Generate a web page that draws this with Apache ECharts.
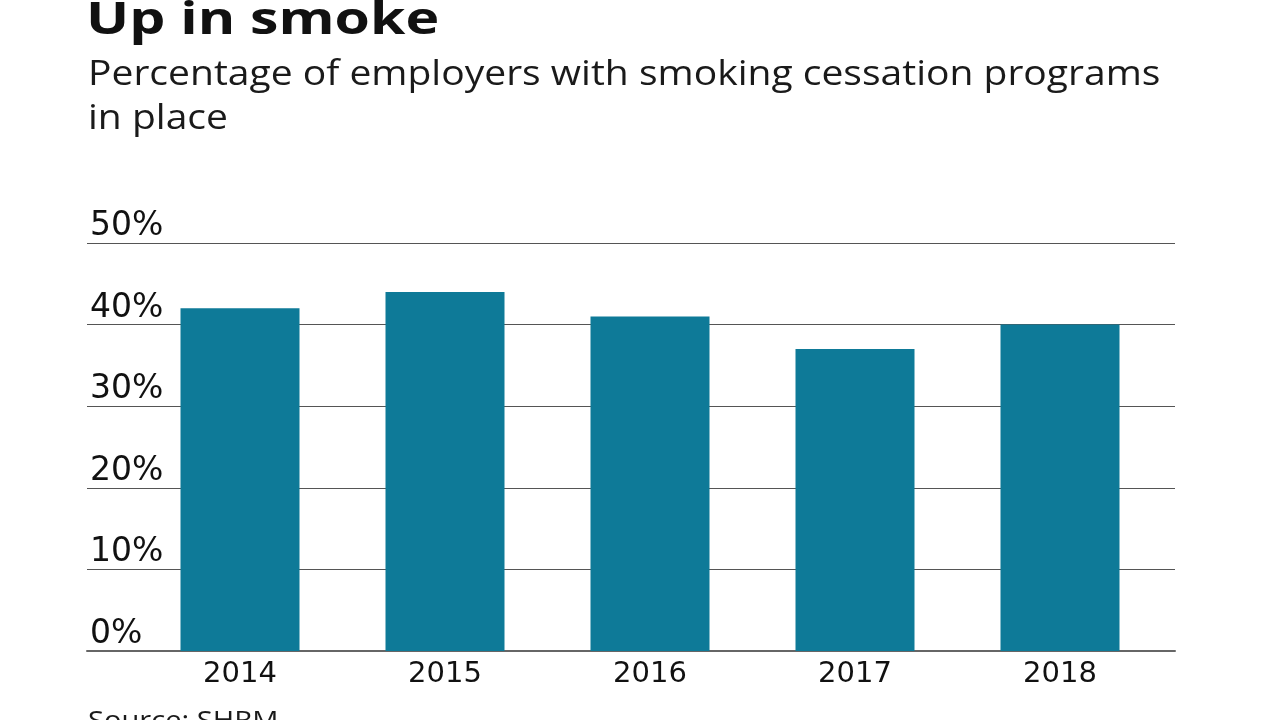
<!DOCTYPE html>
<html><head><meta charset="utf-8">
<script src="https://cdn.jsdelivr.net/npm/echarts@6/dist/echarts.min.js"></script>
<style>html,body{margin:0;padding:0;background:#fff}#c{width:1280px;height:720px}</style>
</head><body><div id="c"></div>
<script>
const categories = ['2014', '2015', '2016', '2017', '2018'];
const values = [42, 44, 41, 37, 40];
const yTicks = [0, 10, 20, 30, 40, 50];
const titleText = 'Up in smoke';
const subtitleText = 'Percentage of employers with smoking cessation programs\nin place';
const sourceText = 'Source: SHRM';

const FONT = 'DejaVu Sans';
const FONT2 = 'Open Sans';
const chart = echarts.init(document.getElementById('c'), null, {renderer: 'canvas'});
chart.setOption({
  animation: false,
  backgroundColor: '#fff',
  graphic: [
    {type: 'text', x: 86, y: -1, scaleX: 1.27, style: {text: titleText, fontFamily: FONT2, fontWeight: 'bold', fontSize: 45, fill: '#111'}},
    {type: 'text', x: 88, y: 53, scaleX: 1.115, style: {text: subtitleText, fontFamily: FONT2, fontSize: 35, lineHeight: 44, fill: '#1a1a1a'}},
    {type: 'text', x: 88, y: 709, scaleX: 1.12, style: {text: sourceText, fontFamily: FONT2, fontSize: 26, fill: '#1a1a1a'}}
  ],
  grid: [
    {left: 87, right: 105, top: 243, bottom: 69},
    {left: 137.5, width: 1025, top: 243, bottom: 69}
  ],
  xAxis: [
    {gridIndex: 0, type: 'category', data: categories, axisLine: {show: true, lineStyle: {color: '#666', width: 2}}, axisTick: {show: false}, axisLabel: {show: false}, splitLine: {show: false}},
    {gridIndex: 1, type: 'category', data: categories, axisLine: {show: false}, axisTick: {show: false},
     axisLabel: {fontFamily: FONT, fontSize: 29, color: '#111', margin: 9}}
  ],
  yAxis: [
    {gridIndex: 0, type: 'value', min: yTicks[0], max: yTicks[yTicks.length - 1], interval: 10,
     axisLine: {show: false}, axisTick: {show: false},
     splitLine: {show: true, lineStyle: {color: '#555', width: 1}},
     axisLabel: {inside: true, margin: 3, verticalAlign: 'bottom', padding: [0, 0, 0, 0], fontFamily: FONT, fontSize: 33, color: '#111',
       formatter: v => v + '%'}},
    {gridIndex: 1, type: 'value', min: yTicks[0], max: yTicks[yTicks.length - 1], interval: 10, show: false}
  ],
  series: [{
    type: 'bar', xAxisIndex: 1, yAxisIndex: 1, data: values, barWidth: 119,
    itemStyle: {color: '#0e7a98'}, z: 5
  }]
});
</script></body></html>
